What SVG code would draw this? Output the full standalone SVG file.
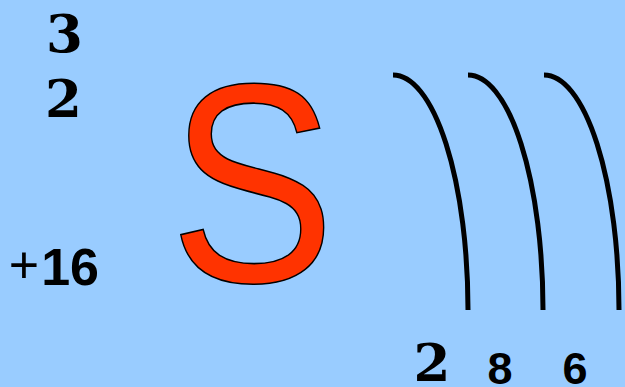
<svg xmlns="http://www.w3.org/2000/svg" width="625" height="387" viewBox="0 0 625 387">
<style>
.serif{font-family:"DejaVu Serif","Liberation Serif",serif;font-weight:bold;font-size:53px;fill:#000;text-anchor:middle}
.sans{font-family:"Liberation Sans",Arial,sans-serif;font-weight:bold;fill:#000}
.shell{fill:none;stroke:#000;stroke-width:5}
</style>
<rect x="0" y="0" width="625" height="387" fill="#99CCFF"/>
<g id="mass">
<text class="serif" x="64.5" y="52">3</text>
<text class="serif" x="63.5" y="117">2</text>
</g>
<g id="charge">
<text x="24" y="283" font-family="Liberation Sans, Arial, sans-serif" font-size="52" text-anchor="middle">+</text>
<text class="sans" x="99" y="285" font-size="52" text-anchor="end">16</text>
</g>
<g id="symbol">
<text transform="translate(169.5,281.5) scale(0.874,1)" x="0" y="0" font-family="Liberation Sans, Arial, sans-serif" font-size="284" fill="#FF3300" stroke="#000" stroke-width="1.6">S</text>
</g>
<g id="shells">
<path class="shell" d="M393,75 A75,235 0 0 1 468,310"/>
<path class="shell" d="M468,75 A75,235 0 0 1 543,310"/>
<path class="shell" d="M544,75 A75,235 0 0 1 619,310"/>
</g>
<g id="electrons">
<text class="serif" x="432" y="381">2</text>
<text class="sans" x="500" y="384" font-size="45" text-anchor="middle">8</text>
<text class="sans" x="575" y="384" font-size="45" text-anchor="middle">6</text>
</g>
</svg>
